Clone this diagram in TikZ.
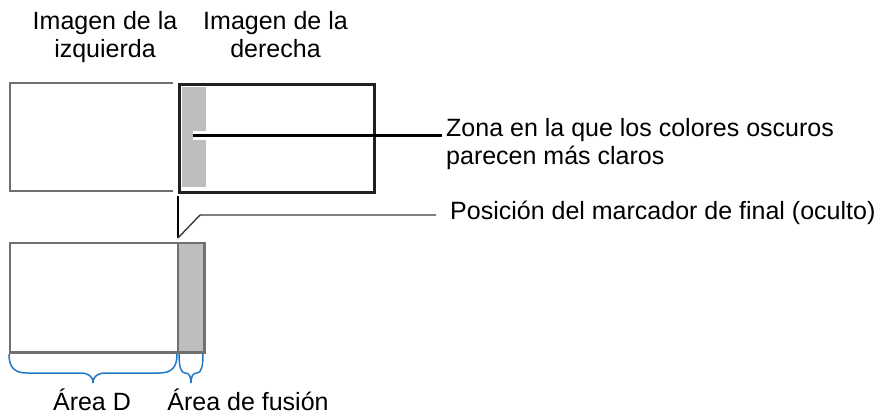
\documentclass[tikz,border=0pt]{standalone}
\usepackage{fontspec}
\setmainfont{Liberation Sans}
\definecolor{framegray}{HTML}{707070}
\definecolor{framedark}{HTML}{231F20}
\definecolor{stripegray}{HTML}{BCBEC0}
\definecolor{bracecol}{HTML}{1F78C8}
\definecolor{leadcol}{HTML}{3A3A3A}
\tikzset{
  lbl/.style={inner sep=0pt, font=\fontsize{25}{28.5}\selectfont, text=black},
  grayframe/.style={draw=framegray, line width=2.4pt},
  darkframe/.style={draw=framedark, line width=2.6pt},
  stripe/.style={fill=stripegray, draw=none},
  bracepath/.style={draw=bracecol, line width=1.5pt},
  leader/.style={draw=black, line width=3pt},
  thinleader/.style={draw=leadcol, line width=1.4pt},
}
\begin{document}
\begin{tikzpicture}[x=1pt,y=-1pt]
\useasboundingbox (0,0) rectangle (880,415);

% top labels
\node[lbl, anchor=north, align=center] (lefttitle) at (105,10.8) {Imagen de la\\izquierda};
\node[lbl, anchor=north, align=center] (righttitle) at (275.5,10.8) {Imagen de la\\derecha};

% upper images
\draw[grayframe] (173,83) -- (10,83) -- (10,191) -- (173,191);
\node[darkframe, fill=white, anchor=north west, minimum width=195pt, minimum height=108pt, inner sep=0pt] (rightimg) at (178,83) {};
\fill[stripe] (182,86.5) rectangle (206,186.5);

% callout to zone
\coordinate (zpt) at (193,135);
\node[lbl, anchor=north west, align=left] (zona) at (446,117.8) {Zona en la que los colores oscuros\\parecen más claros};
\draw[white, line width=9pt] (zpt) -- (207,135);
\draw[leader] (zpt) -- ([xshift=-4pt]zpt -| zona.west);

% end marker position
\coordinate (mtop) at (178,196);
\coordinate (mbot) at (178,238);
\coordinate (mbend) at (200,215);
\draw[draw=black, line width=1.1pt] (mtop) -- (mbot);
\node[lbl, anchor=north west] (marker) at (450,200.8) {Posición del marcador de final (oculto)};
\draw[thinleader] (mbot) -- (mbend) -- ([xshift=-14pt]mbend -| marker.west);

% lower image
\node[anchor=north west, minimum width=194pt, minimum height=109pt, inner sep=0pt] (lowimg) at (10,243) {};
\fill[stripe] (178,243) rectangle (204,352);
\draw[grayframe] (lowimg.north west) rectangle (lowimg.south east);
\draw[draw=framegray, line width=1.8pt] (178,243) -- (178,352);

% braces
\draw[bracepath] (9,354) .. controls (9,367) and (14,373) .. (27,373) -- (80,373)
  .. controls (88,373) and (93,376) .. (93,383)
  .. controls (93,376) and (98,373) .. (106,373) -- (159,373)
  .. controls (172,373) and (177,367) .. (177,354);
\draw[bracepath] (179,354) .. controls (179,367) and (181,373) .. (185,373)
  .. controls (189,373) and (191,376) .. (191,383)
  .. controls (191,376) and (193,373) .. (197,373)
  .. controls (201,373) and (203,367) .. (203,354);

% bottom labels
\node[lbl, anchor=base] (aread) at (92,410) {Área D};
\node[lbl, anchor=base] (areaf) at (248,410) {Área de fusión};
\end{tikzpicture}
\end{document}
